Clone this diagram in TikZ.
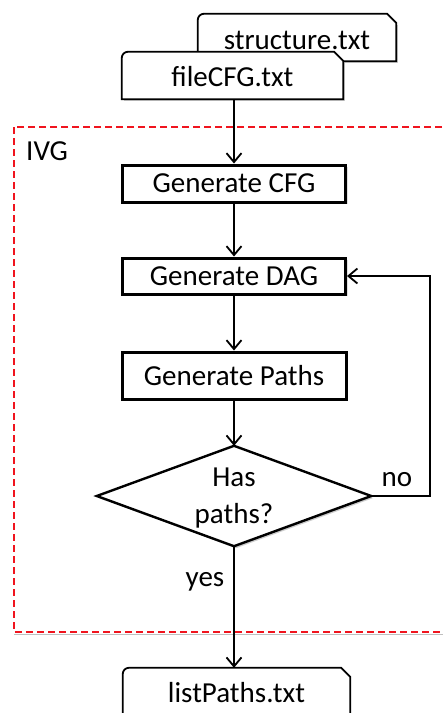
\documentclass[tikz,border=0pt]{standalone}
\usepackage{fontspec}
\setmainfont{Carlito}
\usetikzlibrary{arrows.meta,shadows}
\definecolor{dashred}{RGB}{240,20,30}
\begin{document}
\begin{tikzpicture}[x=1pt,y=-1pt,
  every node/.style={font=\fontsize{29}{36}\selectfont, inner sep=0pt},
  proc/.style={draw, line width=3pt, fill=white, minimum width=223pt, minimum height=37pt,
     drop shadow={shadow xshift=2pt, shadow yshift=-2pt, opacity=0.25}},
  filebox/.style={minimum width=221pt, minimum height=47pt},
  fileshape/.style={draw, line width=1.8pt, fill=white},
  conn/.style={line width=2pt, -{Straight Barb[length=9pt, width=15pt, line width=1.8pt]}},
  lbl/.style={font=\fontsize{29}{36}\selectfont}
]
\useasboundingbox (0,0) rectangle (443,713);
\clip (0,0) rectangle (443,713);

% red dashed group frame
\draw[black!25, line width=1.5pt] (14,129.5) -- (460,129.5) (14,634.5) -- (460,634.5);
\draw[dashred, line width=1.6pt, dash pattern=on 7pt off 4pt, fill=white] (14,127) rectangle (460,632);
\node[lbl, anchor=west] (ivg) at (26,151) {IVG};

% file boxes
\node[filebox, minimum width=198pt] (structure) at (297,37.5) {};
\fill[black, opacity=0.2] ([xshift=2pt,yshift=-2pt]structure.south west) rectangle ([xshift=2pt,yshift=-11pt]structure.north east);
\draw[fileshape, fill=white] (structure.south west) -- ([yshift=-6pt]structure.north west)
   arc[start angle=180, end angle=90, radius=6pt] -- ([xshift=-9pt]structure.north east)
   -- ([yshift=-9pt]structure.north east) -- (structure.south east) -- cycle;
\node[lbl] (structuretxt) at (297,40) {structure.txt};

\node[filebox] (filecfg) at (232.5,75.5) {};
\fill[black, opacity=0.2] ([xshift=2pt,yshift=-2pt]filecfg.south west) rectangle ([xshift=2pt,yshift=-11pt]filecfg.north east);
\draw[fileshape] (filecfg.south west) -- ([yshift=-6pt]filecfg.north west)
   arc[start angle=180, end angle=90, radius=6pt] -- ([xshift=-9pt]filecfg.north east)
   -- ([yshift=-9pt]filecfg.north east) -- (filecfg.south east) -- cycle;
\node[lbl] (filecfgtxt) at (232.5,77) {fileCFG.txt};

% process boxes
\node[proc] (gencfg) at (234,183.5) {Generate CFG};
\node[proc, minimum height=36pt] (gendag) at (234,276) {Generate DAG};
\node[proc, minimum width=224pt, minimum height=47pt] (genpaths) at (234,375.5) {Generate Paths};

% decision
\node[minimum width=274pt, minimum height=100pt] (dec) at (234,496) {};
\fill[black, opacity=0.2] ([xshift=2pt,yshift=-2pt]dec.north) -- ([xshift=2pt,yshift=-2pt]dec.east)
   -- ([xshift=2pt,yshift=-2pt]dec.south) -- ([xshift=2pt,yshift=-2pt]dec.west) -- cycle;
\draw[line width=2.4pt, fill=white, line join=miter] (dec.north) -- (dec.east) -- (dec.south) -- (dec.west) -- cycle;
\node[align=center, font=\fontsize{29}{37}\selectfont] (dectxt) at (234,498) {Has\\paths?};

% output file
\node[filebox, minimum width=227pt, minimum height=50pt] (listpaths) at (236.5,693) {};
\draw[fileshape] (listpaths.south west) -- ([yshift=-6pt]listpaths.north west)
   arc[start angle=180, end angle=90, radius=6pt] -- ([xshift=-9pt]listpaths.north east)
   -- ([yshift=-9pt]listpaths.north east) -- (listpaths.south east) -- cycle;
\node[lbl] (listpathstxt) at (236.5,693) {listPaths.txt};

% connectors
\coordinate (fb) at (430,496);
\draw[conn] (filecfg.south -| gencfg.north) -- (gencfg.north);
\draw[conn] (gencfg.south) -- (gendag.north);
\draw[conn] (gendag.south) -- (genpaths.north);
\draw[conn] (genpaths.south) -- (dec.north);
\draw[conn] (dec.east) -- (fb) |- (gendag.east);
\draw[conn] (dec.south) -- (dec.south |- listpaths.north);

\node[lbl] (no) at (397,480) {no};
\node[lbl] (yes) at (205,582) {yes};
\end{tikzpicture}
\end{document}
